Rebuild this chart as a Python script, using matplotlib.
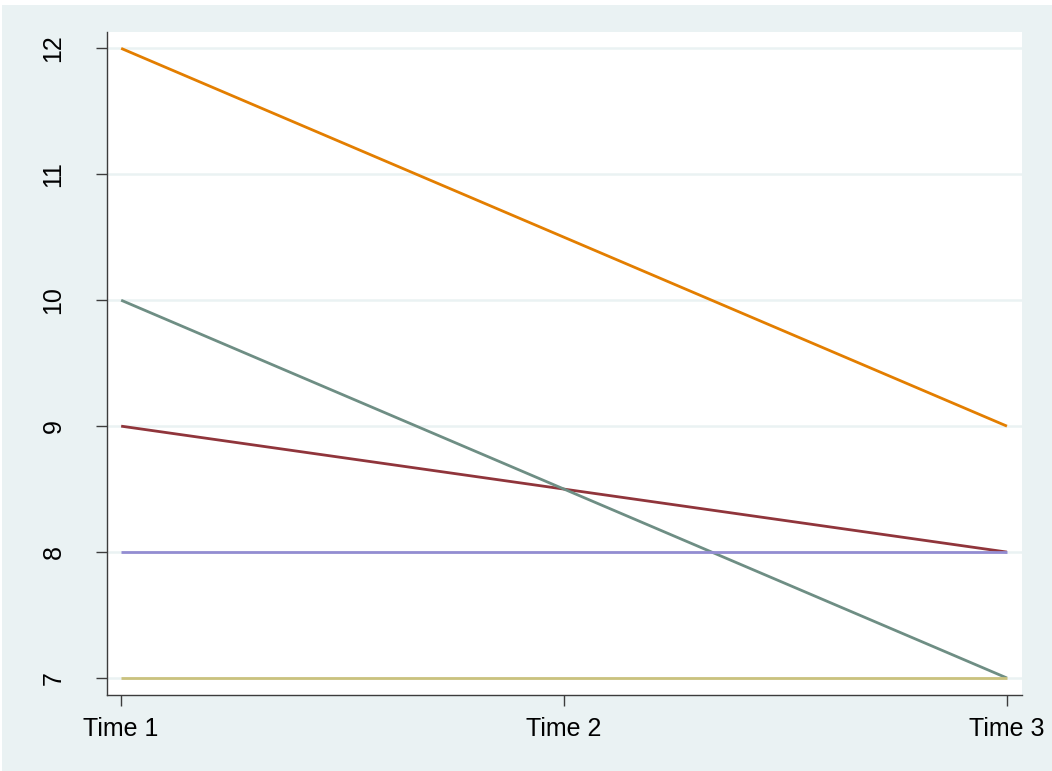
import matplotlib
matplotlib.use("Agg")
import matplotlib.pyplot as plt
from matplotlib.patches import Rectangle

# Data: one profile per series across three time points
time_labels = ["Time 1", "Time 2", "Time 3"]
time_pos = [1, 2, 3]
series_values = {
    "maroon": [9, 8.5, 8],
    "dkorange": [12, 10.5, 9],
    "teal": [10, 8.5, 7],
    "lavender": [8, 8, 8],
    "khaki": [7, 7, 7],
}
series_colors = {
    "maroon": "#90353B",
    "dkorange": "#E37E00",
    "teal": "#6E8E84",
    "lavender": "#938DD2",
    "khaki": "#CAC27E",
}
y_ticks = [7, 8, 9, 10, 11, 12]

plt.rcParams["font.family"] = ["Liberation Sans", "DejaVu Sans"]

W, H = 1052, 771
fig = plt.figure(figsize=(W / 100, H / 100), dpi=100, facecolor="white")
# Stata-style light blue-gray graph region, drawn beneath the axes
bg = Rectangle((2 / W, 0), 1 - 2 / W, 1 - 5 / H,
               transform=fig.transFigure, facecolor="#EAF2F3",
               edgecolor="none", zorder=-10)
fig.add_artist(bg)

left, right, top, bottom = 107, 1022, 32, 695
ax = fig.add_axes([left / W, 1 - bottom / H, (right - left) / W, (bottom - top) / H])
ax.set_facecolor("white")

for name, vals in series_values.items():
    ax.plot(time_pos, vals, color=series_colors[name], lw=2.0,
            solid_capstyle="butt", zorder=3)

ax.set_xlim(0.968, 3.034)
ax.set_ylim(6.865, 12.13)
ax.set_xticks(time_pos)
ax.set_xticklabels(time_labels)
ax.set_yticks(y_ticks)
ax.set_yticklabels([str(v) for v in y_ticks], rotation=90, va="center")

ax.yaxis.grid(True, color="#EAF2F3", lw=1.8, zorder=1)
ax.set_axisbelow(True)

for s in ["top", "right"]:
    ax.spines[s].set_visible(False)
for s in ["left", "bottom"]:
    ax.spines[s].set_color("#3c3c3c")
    ax.spines[s].set_linewidth(1.0)

ax.tick_params(axis="both", direction="out", length=7.8, width=1.0,
               color="#3c3c3c", labelsize=18)
ax.tick_params(axis="x", pad=8)
ax.tick_params(axis="y", pad=22)

fig.savefig("out.png", dpi=100, facecolor=fig.get_facecolor())
